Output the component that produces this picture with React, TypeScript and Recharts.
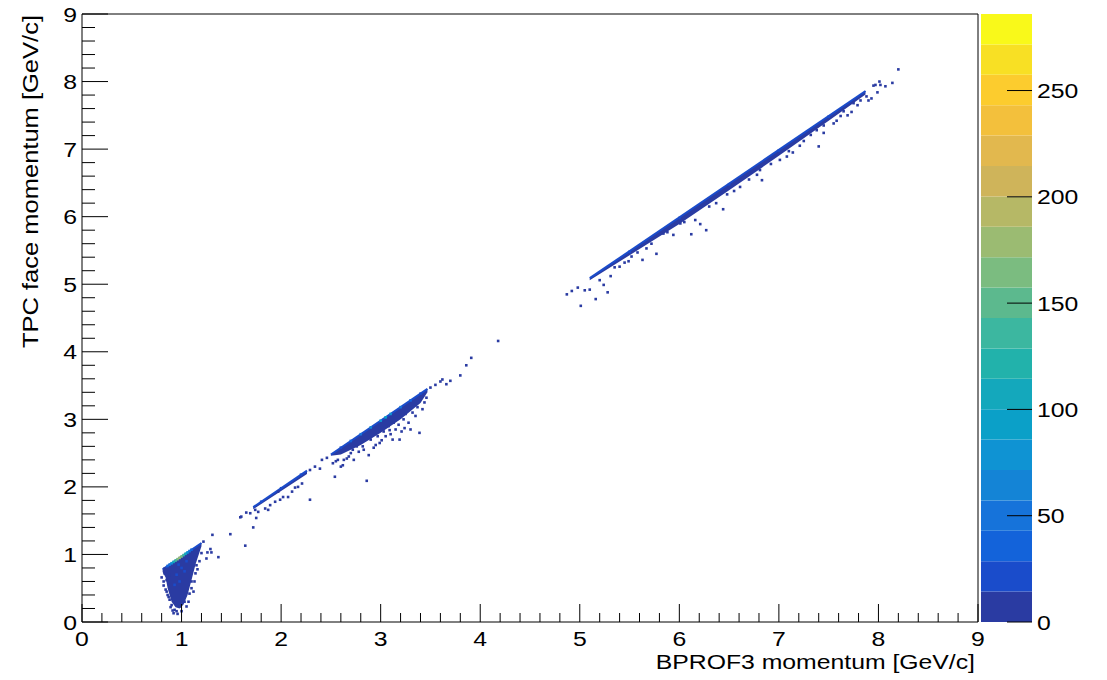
import {
  ComposedChart,
  Area,
  Line,
  Scatter,
  XAxis,
  YAxis,
  ReferenceLine,
  Label,
  BarChart,
  Bar,
} from "recharts";

// axes
const X_MAJOR = [0, 1, 2, 3, 4, 5, 6, 7, 8, 9];
const Y_MAJOR = [0, 1, 2, 3, 4, 5, 6, 7, 8, 9];
const Z_TICKS = [0, 50, 100, 150, 200, 250];
const Z_MAX = 286;

// kBird-like palette, 20 levels, bottom -> top
const PALETTE = [
  "#2a3ba2", "#1a4ccb", "#1363da", "#1673da", "#1484d6",
  "#0f93d3", "#0ba0c8", "#14a8bc", "#22b2ab", "#3cb7a0",
  "#5cb98e", "#7bbc80", "#9bbb72", "#b6b866", "#cfb45a",
  "#e2b84e", "#f3c03c", "#fccc2e", "#f8e024", "#f9f91a",
];

// dense cores [lo, hi] per x
const CORE_A = [
  { x: 0.81, lo: 0.74, hi: 0.78 },
  { x: 0.84, lo: 0.66, hi: 0.81 },
  { x: 0.86, lo: 0.5, hi: 0.83 },
  { x: 0.9, lo: 0.3, hi: 0.87 },
  { x: 0.94, lo: 0.22, hi: 0.91 },
  { x: 0.98, lo: 0.2, hi: 0.95 },
  { x: 1.02, lo: 0.26, hi: 0.99 },
  { x: 1.06, lo: 0.4, hi: 1.03 },
  { x: 1.1, lo: 0.62, hi: 1.07 },
  { x: 1.14, lo: 0.85, hi: 1.11 },
  { x: 1.2, lo: 1.12, hi: 1.17 },
];
const CORE_B1 = [
  { x: 1.72, lo: 1.67, hi: 1.7 },
  { x: 2.0, lo: 1.94, hi: 1.98 },
  { x: 2.26, lo: 2.19, hi: 2.24 },
];
const CORE_B2 = [
  { x: 2.5, lo: 2.46, hi: 2.48 },
  { x: 2.6, lo: 2.48, hi: 2.58 },
  { x: 2.8, lo: 2.62, hi: 2.78 },
  { x: 3.0, lo: 2.8, hi: 2.98 },
  { x: 3.2, lo: 3.0, hi: 3.18 },
  { x: 3.4, lo: 3.24, hi: 3.38 },
  { x: 3.47, lo: 3.4, hi: 3.45 },
];
const CORE_C = [
  { x: 5.1, lo: 5.06, hi: 5.09 },
  { x: 5.5, lo: 5.43, hi: 5.49 },
  { x: 6.0, lo: 5.89, hi: 5.99 },
  { x: 6.5, lo: 6.39, hi: 6.49 },
  { x: 7.0, lo: 6.9, hi: 6.99 },
  { x: 7.5, lo: 7.42, hi: 7.49 },
  { x: 7.87, lo: 7.81, hi: 7.86 },
];

// ridge lines
const RIDGE_A = [{ x: 0.81, y: 0.78 }, { x: 1.2, y: 1.17 }];
const RIDGE_B1 = [{ x: 1.72, y: 1.7 }, { x: 2.26, y: 2.24 }];
const RIDGE_B2 = [{ x: 2.5, y: 2.48 }, { x: 3.47, y: 3.45 }];
const RIDGE_C = [{ x: 5.1, y: 5.09 }, { x: 7.87, y: 7.86 }];

// high-count bins [x, y, entries]
const HOT: [number, number, number][] = [
  [0.86, 0.83, 30], [0.88, 0.85, 55], [0.9, 0.87, 80], [0.92, 0.89, 105],
  [0.94, 0.91, 130], [0.96, 0.93, 160], [0.98, 0.95, 175], [1.0, 0.97, 160],
  [1.02, 0.99, 140], [1.04, 1.01, 110], [1.06, 1.03, 80], [1.08, 1.05, 55],
  [1.1, 1.07, 35],
  [0.95, 0.7, 20], [0.98, 0.6, 20], [1.0, 0.8, 20], [0.93, 0.55, 20],
  [1.03, 0.75, 20], [0.97, 0.85, 25], [1.05, 0.9, 25],
  [1.8, 1.78, 20], [2.0, 1.98, 25], [2.2, 2.18, 20],
  [2.6, 2.58, 20], [2.7, 2.68, 30], [2.8, 2.78, 45], [2.9, 2.88, 65],
  [3.0, 2.98, 85], [3.05, 3.03, 95], [3.1, 3.08, 80], [3.2, 3.18, 55],
  [3.3, 3.28, 35], [3.4, 3.38, 20],
  [5.5, 5.48, 18], [6.0, 5.98, 20], [6.5, 6.48, 20], [7.0, 6.98, 18], [7.5, 7.48, 16],
];

// low-count scattered bins [x, y]
const SPARSE: [number, number][] = [
  [0.82, 0.54], [0.83, 0.79], [0.85, 0.62], [0.88, 0.7], [0.87, 0.37],
  [0.88, 0.33], [0.9, 0.25], [0.92, 0.13], [0.93, 0.18], [0.98, 0.23],
  [1.05, 0.23], [1.03, 0.3], [1.08, 0.42], [1.12, 0.45], [1.15, 0.84],
  [0.84, 0.48], [0.95, 0.16], [1.1, 0.6], [1.14, 0.72], [1.22, 1.19],
  [0.83, 0.72], [0.85, 0.45], [0.86, 0.4], [0.89, 0.22], [0.91, 0.17],
  [0.96, 0.12], [1.0, 0.16], [1.07, 0.3], [1.1, 0.5], [1.13, 0.6],
  [1.16, 0.78], [1.18, 0.9], [1.2, 1.02], [0.8, 0.66], [0.82, 0.6],
  [1.25, 0.94], [1.26, 1.03], [1.29, 1.08], [1.3, 1.03], [1.37, 0.96],
  [1.31, 1.29], [1.49, 1.3], [1.64, 1.13], [1.72, 1.4], [1.59, 1.55],
  [1.65, 1.62], [1.6, 1.56], [1.69, 1.61], [1.74, 1.66], [1.77, 1.63],
  [1.75, 1.54], [1.84, 1.68], [1.87, 1.66], [1.89, 1.73], [1.94, 1.78],
  [1.97, 1.93], [1.99, 1.81], [2.02, 1.85], [2.07, 1.85], [2.11, 1.93],
  [2.14, 1.99], [2.17, 2.0], [2.21, 2.05], [2.29, 1.81], [2.29, 2.25],
  [2.34, 2.3], [2.39, 2.27], [2.41, 2.4], [2.46, 2.43], [2.52, 2.35],
  [2.54, 2.15], [2.57, 2.4], [2.62, 2.32], [2.66, 2.42], [2.73, 2.4],
  [2.83, 2.55], [2.88, 2.47], [2.86, 2.09], [2.99, 2.65], [3.01, 2.69],
  [3.09, 2.84], [3.19, 2.7], [3.21, 2.82], [3.39, 2.8], [2.7, 2.5],
  [2.78, 2.52], [2.95, 2.62], [3.05, 2.75], [3.15, 2.85], [3.28, 2.95],
  [3.35, 3.05], [3.42, 3.15], [3.3, 2.85], [3.1, 2.78], [2.6, 2.3],
  [2.68, 2.45], [2.55, 2.38], [2.63, 2.4], [2.72, 2.55], [2.76, 2.6],
  [2.82, 2.6], [2.9, 2.7], [2.93, 2.58], [2.97, 2.75], [3.03, 2.82],
  [3.08, 2.9], [3.13, 2.95], [3.18, 2.92], [3.23, 3.0], [3.25, 3.08],
  [3.32, 3.1], [3.37, 3.18], [3.44, 3.25], [3.46, 3.32], [3.12, 2.7],
  [3.24, 2.87],
  [3.5, 3.47], [3.55, 3.51], [3.6, 3.56], [3.62, 3.59],
  [3.66, 3.52], [3.7, 3.57], [3.8, 3.65], [3.86, 3.8], [3.91, 3.91],
  [4.18, 4.16],
  [4.87, 4.85], [4.92, 4.9], [4.98, 4.95], [5.01, 4.68], [5.05, 4.91],
  [5.1, 4.92], [5.16, 4.78], [5.2, 5.06], [5.24, 4.99], [5.28, 4.88],
  [5.31, 5.12], [5.4, 5.26], [5.49, 5.34], [5.52, 5.41], [5.63, 5.36],
  [5.67, 5.53], [5.77, 5.45], [5.84, 5.75], [5.94, 5.73], [6.01, 5.9],
  [6.12, 5.74], [6.16, 5.95], [6.21, 5.89], [6.27, 5.8], [6.37, 6.2],
  [6.44, 6.11], [6.61, 6.44], [6.78, 6.62], [6.81, 6.69], [6.83, 6.54],
  [7.01, 6.84], [7.08, 6.89], [7.14, 6.95], [7.21, 7.05], [7.32, 7.21],
  [7.38, 7.28], [7.4, 7.04], [7.45, 7.24], [7.55, 7.38], [7.58, 7.42],
  [7.62, 7.49], [7.69, 7.5], [7.73, 7.55], [7.75, 7.68], [7.79, 7.65],
  [7.88, 7.78], [7.9, 7.72], [7.93, 7.75], [7.95, 7.94], [7.97, 7.95],
  [7.99, 7.84], [8.01, 8.0], [8.02, 7.95], [8.07, 7.93], [8.14, 7.98],
  [8.2, 8.18],
  [5.35, 5.25], [5.45, 5.32], [5.58, 5.47], [5.72, 5.6], [5.88, 5.77],
  [6.05, 5.92], [6.3, 6.15], [6.48, 6.33], [6.55, 6.38], [6.7, 6.55],
  [6.92, 6.78], [7.1, 6.97], [7.25, 7.12], [7.45, 7.35], [7.65, 7.56],
  [7.82, 7.72],
];

const FONT = "'Liberation Sans', Arial, Helvetica, sans-serif";
const STRETCH = 1.18;

const colorOf = (n: number) =>
  PALETTE[Math.min(PALETTE.length - 1, Math.floor(n / (Z_MAX / PALETTE.length)))];

const minorTicks = (major: number[]) =>
  major.flatMap((v, i) =>
    i < major.length - 1 ? [v, v + 0.2, v + 0.4, v + 0.6, v + 0.8] : [v],
  );

const isMajor = (v: number) => Math.abs(v - Math.round(v)) < 1e-6;

const hotBins = HOT.map(([x, y, n]) => ({ x, y, n }));
const sparseBins = SPARSE.map(([x, y]) => ({ x, y, n: 2 }));

const Bin = (props: any) => {
  const { cx, cy, payload } = props;
  if (cx == null || cy == null) return null;
  return (
    <rect x={cx - 1.3} y={cy - 1.3} width={2.6} height={2.6} fill={colorOf(payload.n)} />
  );
};

const XTick = (props: any) => {
  const { x, y, payload } = props;
  const major = isMajor(payload.value);
  return (
    <g>
      <line x1={x} y1={y} x2={x} y2={y - (major ? 18 : 9)} stroke="#000" />
      {major && (
        <text
          transform={`translate(${x},${y + 24}) scale(${STRETCH},1)`}
          textAnchor="middle"
          fontSize={21}
          fontFamily={FONT}
          fill="#000"
        >
          {Math.round(payload.value)}
        </text>
      )}
    </g>
  );
};

const YTick = (props: any) => {
  const { x, y, payload } = props;
  const major = isMajor(payload.value);
  return (
    <g>
      <line x1={x} y1={y} x2={x + (major ? 26 : 13)} y2={y} stroke="#000" />
      {major && (
        <text
          transform={`translate(${x - 5},${y + 7.5}) scale(${STRETCH},1)`}
          textAnchor="end"
          fontSize={21}
          fontFamily={FONT}
          fill="#000"
        >
          {Math.round(payload.value)}
        </text>
      )}
    </g>
  );
};

const ZTick = (props: any) => {
  const { x, y, payload } = props;
  return (
    <g>
      <line x1={x - 25} y1={y} x2={x} y2={y} stroke="#000" />
      <text
        transform={`translate(${x + 5},${y + 7.5}) scale(${STRETCH},1)`}
        textAnchor="start"
        fontSize={21}
        fontFamily={FONT}
        fill="#000"
      >
        {payload.value}
      </text>
    </g>
  );
};

const zRow = [
  Object.fromEntries([
    ["name", "z"],
    ...PALETTE.map((_, i) => [`b${i}`, Z_MAX / PALETTE.length]),
  ]),
];

export default function App() {
  const cores = [CORE_A, CORE_B1, CORE_B2, CORE_C];
  const ridges = [RIDGE_A, RIDGE_B1, RIDGE_B2, RIDGE_C];
  return (
    <div style={{ position: "absolute", left: 0, top: 0, width: 1107, height: 680, background: "#fff" }}>
      <div style={{ position: "absolute", left: 0, top: 0 }}>
        <ComposedChart width={1107} height={680} margin={{ top: 14, right: 129, bottom: 0, left: 0 }}>
          <XAxis
            dataKey="x"
            type="number"
            domain={[0, 9]}
            allowDataOverflow
            ticks={minorTicks(X_MAJOR)}
            interval={0}
            height={58}
            tickSize={0}
            tickMargin={0}
            tickLine={false}
            stroke="#000"
            tick={<XTick />}
          >
            <Label
              content={(p: any) => {
                const vb = p.viewBox;
                return (
                  <text
                    transform={`translate(${vb.x + vb.width - 3},${vb.y + 47}) scale(1.18,1)`}
                    textAnchor="end"
                    fontSize={21}
                    fontFamily={FONT}
                    fill="#000"
                  >
                    BPROF3 momentum [GeV/c]
                  </text>
                );
              }}
            />
          </XAxis>
          <YAxis
            type="number"
            domain={[0, 9]}
            allowDataOverflow
            ticks={minorTicks(Y_MAJOR)}
            interval={0}
            width={82}
            tickSize={0}
            tickMargin={0}
            tickLine={false}
            stroke="#000"
            tick={<YTick />}
          >
            <Label
              content={(p: any) => {
                const vb = p.viewBox;
                return (
                  <text
                    transform={`translate(${vb.x + 38},${vb.y + 1}) rotate(-90) scale(1.16,1)`}
                    textAnchor="end"
                    fontSize={22}
                    fontFamily={FONT}
                    fill="#000"
                  >
                    TPC face momentum [GeV/c]
                  </text>
                );
              }}
            />
          </YAxis>
          {cores.map((c, i) => (
            <Area
              key={`core${i}`}
              data={c}
              dataKey={(d: any) => [d.lo, d.hi]}
              type="linear"
              stroke="none"
              fill={PALETTE[0]}
              fillOpacity={1}
              isAnimationActive={false}
            />
          ))}
          {ridges.map((r, i) => (
            <Line
              key={`ridge${i}`}
              data={r}
              dataKey="y"
              type="linear"
              stroke={PALETTE[1]}
              strokeWidth={2}
              dot={false}
              isAnimationActive={false}
            />
          ))}
          <Scatter data={sparseBins} dataKey="y" shape={Bin} isAnimationActive={false} />
          <Scatter data={hotBins} dataKey="y" shape={Bin} isAnimationActive={false} />
          <ReferenceLine x={9} stroke="#000" />
          <ReferenceLine y={9} stroke="#000" />
        </ComposedChart>
      </div>
      <div style={{ position: "absolute", left: 981, top: 0 }}>
        <BarChart
          width={126}
          height={680}
          data={zRow}
          margin={{ top: 14, right: 0, bottom: 58, left: 0 }}
          barCategoryGap={0}
          barGap={0}
        >
          <XAxis dataKey="name" hide />
          {PALETTE.map((c, i) => (
            <Bar key={c} dataKey={`b${i}`} stackId="z" fill={c} isAnimationActive={false} />
          ))}
          <YAxis
            orientation="right"
            type="number"
            domain={[0, Z_MAX]}
            ticks={Z_TICKS}
            interval={0}
            width={75}
            tickSize={0}
            tickMargin={0}
            tickLine={false}
            axisLine={false}
            tick={<ZTick />}
          />
        </BarChart>
      </div>
    </div>
  );
}
